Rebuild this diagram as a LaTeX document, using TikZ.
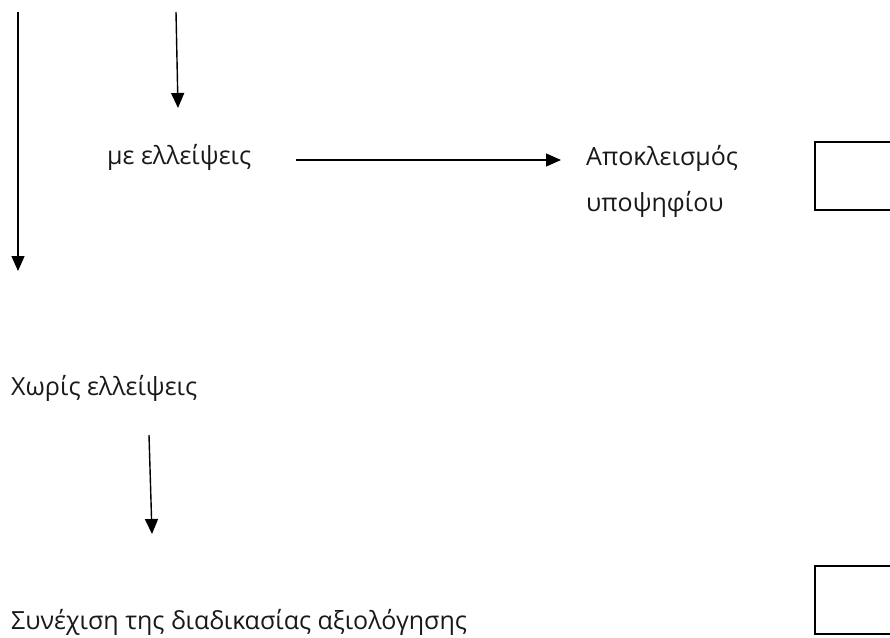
\documentclass[tikz,border=0pt]{standalone}
\usepackage{fontspec}
\setmainfont{Open Sans}
\usetikzlibrary{arrows.meta}
\tikzset{
  arr/.style={line width=1.4pt, -{Triangle[length=15pt,width=13pt]}},
  lbl/.style={inner sep=0pt, anchor=base west, font=\fontsize{25}{28}\selectfont, text=black!90},
  frame/.style={line width=1.6pt, draw=black}
}
\begin{document}
\begin{tikzpicture}[x=1pt,y=-1pt]
\useasboundingbox (0,0) rectangle (890,637);
\clip (0,0) rectangle (890,637);
% labels
\node[lbl] (mel) at (107,164) {με ελλείψεις};
\node[lbl] (apo1) at (586,165) {Αποκλεισμός};
\node[lbl] (apo2) at (586,211) {υποψηφίου};
\node[lbl] (xor) at (11,395) {Χωρίς ελλείψεις};
\node[lbl] (syn) at (11,629) {Συνέχιση της διαδικασίας αξιολόγησης};
% boxes
\node[frame, anchor=north west, minimum width=100pt, minimum height=68pt, inner sep=0pt] (box1) at (814,141) {};
\node[frame, anchor=north west, minimum width=100pt, minimum height=68pt, inner sep=0pt] (box2) at (814,565) {};
% connector ends
\coordinate (a1s) at (18,12);
\coordinate (a1e) at (18,271);
\coordinate (a2s) at (176,12);
\coordinate (a2e) at (178,108);
\coordinate (a3s) at (296,160);
\coordinate (a3e) at (561,160);
\coordinate (a4s) at (149,435);
\coordinate (a4e) at (152,534);
\draw[arr] (a1s) -- (a1e);
\draw[arr] (a2s) -- (a2e);
\draw[arr] (a3s) -- (a3e);
\draw[arr] (a4s) -- (a4e);
\end{tikzpicture}
\end{document}
